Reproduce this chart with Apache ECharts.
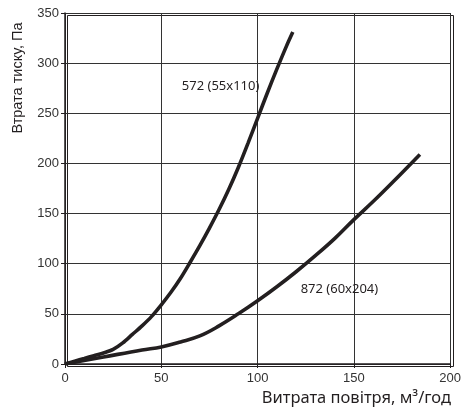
<!DOCTYPE html>
<html><head><meta charset="utf-8">
<script src="https://cdn.jsdelivr.net/npm/echarts@6/dist/echarts.min.js"></script>
<style>html,body{margin:0;padding:0;background:#fff}#c{width:464px;height:410px}</style>
</head><body><div id="c"></div>
<script>
const xTicks = [0, 50, 100, 150, 200];
const yTicks = [0, 50, 100, 150, 200, 250, 300, 350];
const seriesNames = ['572 (55x110)', '872 (60x204)'];
const flow572 = [0, 5, 10, 15, 20, 25, 30, 35, 40, 45, 50, 55, 60, 65, 70, 75, 80, 85, 90, 95, 100, 105, 110, 115, 118.3];
const loss572 = [0, 2.8, 5.5, 8.3, 11, 14.5, 21, 29.5, 38, 47.5, 59, 71.5, 85.5, 101.5, 118, 135.5, 154, 174, 196, 220, 245, 270, 294, 317, 331];
const flow872 = [0, 20, 40, 50, 60, 70, 80, 90, 100, 110, 120, 130, 140, 150, 160, 170, 184.3];
const loss872 = [0, 7, 14, 17, 22, 28, 38, 50, 63, 77, 92, 108, 125, 144, 162, 181, 209];
const labelPos572 = [80.8, 277];
const labelPos872 = [142.5, 74];
const xTitle = 'Витрата повітря, м³/год';
const yTitle = 'Втрата тиску, Па';

const zip = (a, b) => a.map((v, i) => [v, b[i]]);
const chart = echarts.init(document.getElementById('c'));
const lineStyle = { color: '#231f20', width: 3.6 };
const lbl = { show: true, position: 'inside', color: '#231f20', fontFamily: 'Noto Sans', fontSize: 13 };
chart.setOption({
  animation: false,
  grid: { left: 65, right: 13, top: 13, bottom: 46 },
  xAxis: {
    type: 'value', min: xTicks[0], max: xTicks[xTicks.length - 1], interval: 50,
    axisLine: { show: true, onZero: false, lineStyle: { color: '#231f20', width: 1.5 } },
    axisTick: { show: true, length: 4, lineStyle: { color: '#231f20' } },
    axisLabel: { color: '#333', fontFamily: 'Liberation Sans', fontSize: 13, margin: 8 },
    splitLine: { show: true, lineStyle: { color: '#333', width: 1 } }
  },
  yAxis: {
    type: 'value', min: yTicks[0], max: yTicks[yTicks.length - 1], interval: 50,
    axisLine: { show: true, lineStyle: { color: '#231f20', width: 1.5 } },
    axisTick: { show: true, length: 4, lineStyle: { color: '#231f20' } },
    axisLabel: { color: '#333', fontFamily: 'Liberation Sans', fontSize: 13, margin: 6 },
    splitLine: { show: true, lineStyle: { color: '#333', width: 1 } }
  },
  graphic: [
    { type: 'rect', left: 65, top: 13, shape: { width: 386, height: 351 }, style: { fill: 'none', stroke: '#231f20', lineWidth: 1 }, z: 0, silent: true },
    { type: 'text', x: 18, y: 78, rotation: Math.PI / 2, style: { text: yTitle, fill: '#231f20', font: '14.5px "Liberation Sans"', textAlign: 'center', textVerticalAlign: 'middle' } },
    { type: 'text', x: 451, y: 398, style: { text: xTitle, fill: '#231f20', font: '16.5px "Noto Sans"', textAlign: 'right', textVerticalAlign: 'middle' } }
  ],
  series: [
    { name: seriesNames[0], type: 'line', data: zip(flow572, loss572), smooth: 0.3, showSymbol: false, lineStyle, z: 5,
      markPoint: { symbolSize: 0, data: [{ coord: labelPos572, label: Object.assign({ formatter: seriesNames[0] }, lbl) }] } },
    { name: seriesNames[1], type: 'line', data: zip(flow872, loss872), smooth: 0.4, showSymbol: false, lineStyle, z: 5,
      markPoint: { symbolSize: 0, data: [{ coord: labelPos872, label: Object.assign({ formatter: seriesNames[1] }, lbl) }] } }
  ]
});
</script></body></html>
